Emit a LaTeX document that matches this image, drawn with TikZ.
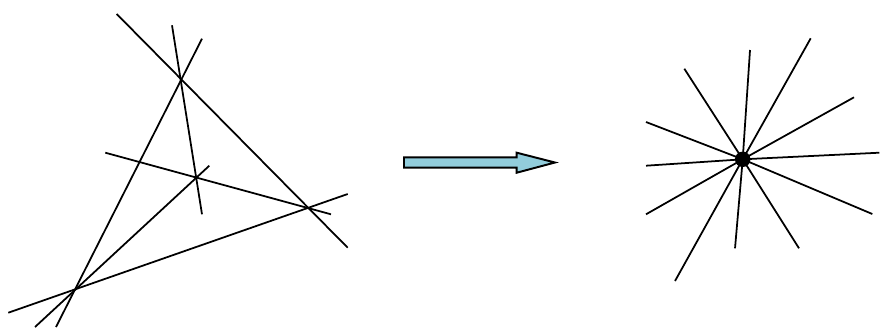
\documentclass[tikz,border=0pt]{standalone}
\usepackage{tikz}
\usetikzlibrary{calc}
\definecolor{arrowblue}{RGB}{146,205,220}
\tikzset{
  ln/.style={black, line width=0.5pt},
  bigarrow/.style={draw=black, line width=0.55pt, fill=arrowblue, line join=miter}
}

\begin{document}
\begin{tikzpicture}[x=0.01cm, y=-0.01cm]
  \useasboundingbox (0,0) rectangle (880,327);
  % left: six lines in general position
  \coordinate (a1) at (116.7,14);   \coordinate (a2) at (347.7,247.7);
  \coordinate (b1) at (172,25.3);   \coordinate (b2) at (202,214.3);
  \coordinate (c1) at (202,38.7);   \coordinate (c2) at (56,327);
  \coordinate (d1) at (105.3,152.7);\coordinate (d2) at (331,214.3);
  \coordinate (e1) at (209.3,165.7);\coordinate (e2) at (35,327);
  \coordinate (f1) at (8.3,312.7);  \coordinate (f2) at (347.7,194);
  \foreach \n in {a,b,c,d,e,f}
    \draw[ln] (\n1) -- (\n2);
  % block arrow
  \draw[bigarrow] (404,157.3) -- (516.7,157.3) -- (516.7,152.7) -- (555,162.5)
    -- (516.7,172.7) -- (516.7,167.7) -- (404,167.7) -- cycle;
  % right: six lines through one point
  \coordinate (ctr) at (742.7,159.3);
  \coordinate (s1) at (750,50);      \coordinate (s2) at (810.7,38.3);
  \coordinate (s3) at (854,97.3);    \coordinate (s4) at (879.3,152.7);
  \coordinate (s5) at (872.3,214);   \coordinate (s6) at (799,248.3);
  \coordinate (s7) at (735,248.3);   \coordinate (s8) at (675,281);
  \coordinate (s9) at (646,214.3);   \coordinate (s10) at (646,165.7);
  \coordinate (s11) at (646,122);    \coordinate (s12) at (684.3,68.7);
  \foreach \i in {1,...,12}
    \draw[ln] (ctr) -- (s\i);
  \fill (ctr) circle (2.2pt);
\end{tikzpicture}
\end{document}
